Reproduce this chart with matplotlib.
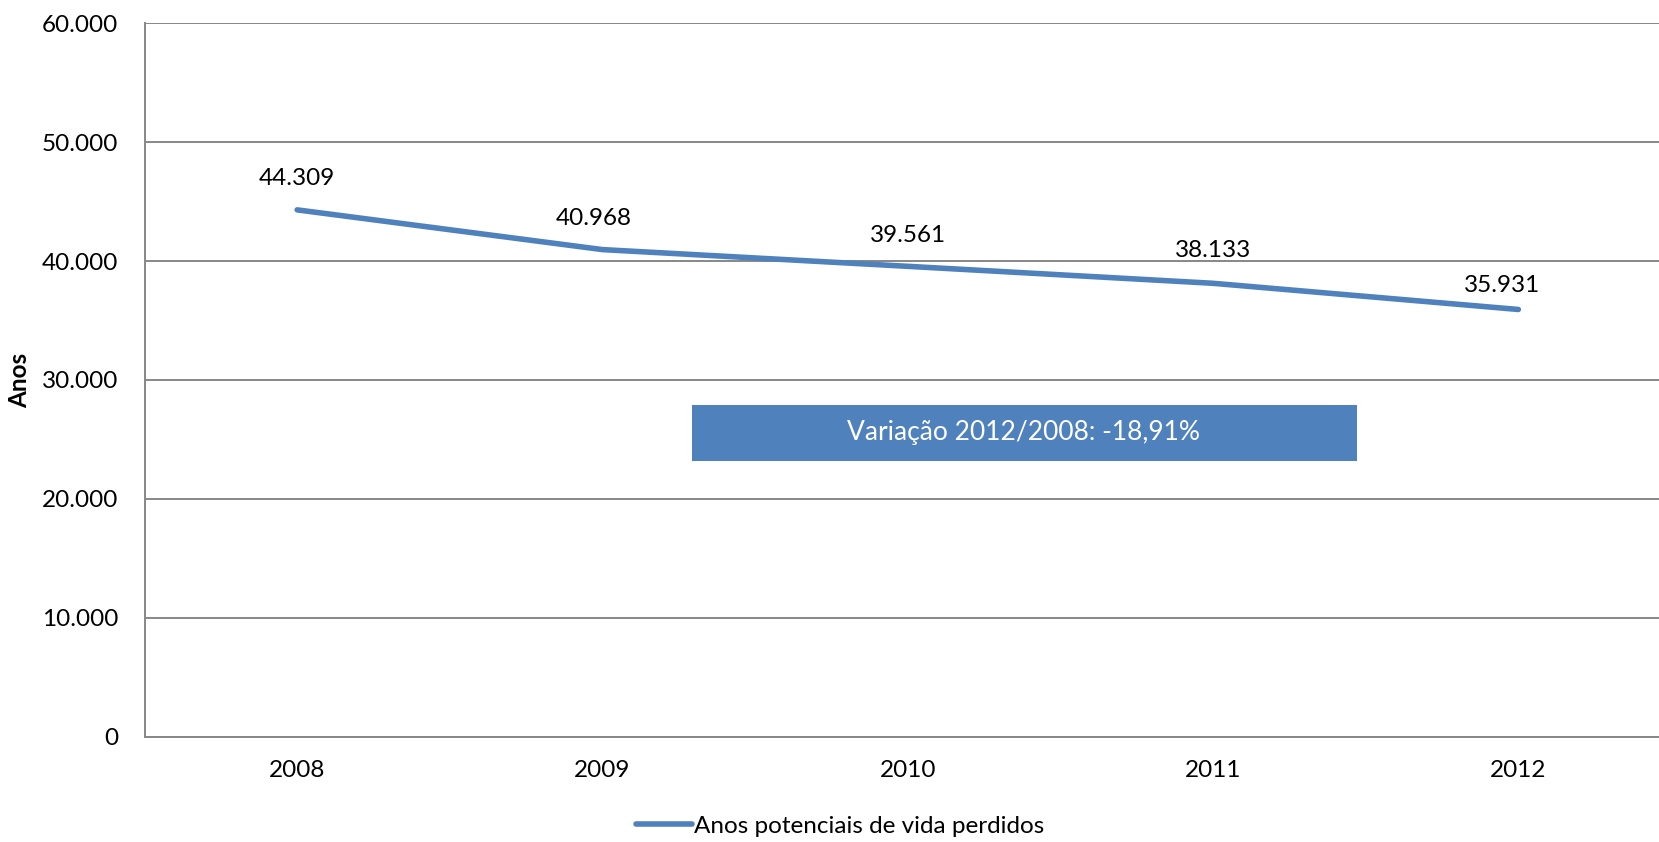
import matplotlib.pyplot as plt
from matplotlib.ticker import FuncFormatter

# Anos potenciais de vida perdidos, 2008-2012
anos = ['2008', '2009', '2010', '2011', '2012']
valores = [44309, 40968, 39561, 38133, 35931]
# deslocamento manual dos rótulos (pontos, até a linha de base do texto)
rot_dx = [0, -6.5, 0, 0, -12]
rot_dy = [18, 17.7, 17.5, 18.7, 12.8]

azul = '#4F81BD'
cinza = '#878787'
plt.rcParams['font.family'] = ['Lato', 'DejaVu Sans']

fig = plt.figure(figsize=(16.59, 8.42), dpi=100)
ax = fig.add_axes([144.5 / 1659, 1 - 736.7 / 842, (1671 - 144.5) / 1659, (736.7 - 23.3) / 842])

x = [i + 0.5 for i in range(len(anos))]
linha, = ax.plot(x, valores, color=azul, linewidth=4.0, solid_capstyle='round',
                 label='Anos potenciais de vida perdidos', zorder=3)

for xi, v, dx, dy in zip(x, valores, rot_dx, rot_dy):
    txt = f'{v:,}'.replace(',', '.')
    ax.annotate(txt, (xi, v), xytext=(dx, dy), textcoords='offset points',
                ha='center', va='baseline', fontsize=17.5, color='black')

ax.set_xlim(0, 5)
ax.set_ylim(0, 60000)
ax.set_xticks(x)
ax.set_xticklabels(anos)
ax.set_yticks(range(0, 60001, 10000))
ax.yaxis.set_major_formatter(FuncFormatter(lambda v, p: f'{int(v):,}'.replace(',', '.')))
ax.tick_params(axis='both', length=0, labelsize=17.5)
ax.tick_params(axis='y', pad=19)
ax.tick_params(axis='x', pad=17)
ax.grid(axis='y', color=cinza, linewidth=1.4)
ax.set_axisbelow(True)
for lado in ['top', 'right']:
    ax.spines[lado].set_visible(False)
for lado in ['left', 'bottom']:
    ax.spines[lado].set_color(cinza)
    ax.spines[lado].set_linewidth(1.4)

ax.set_ylabel('Anos', fontsize=17.5, fontweight='bold')
ax.yaxis.set_label_coords(-113 / (1671 - 144.5), 0.5)

# caixa com a variação do período
ax.add_patch(plt.Rectangle((1.793, 23188), 3.97 - 1.793, 27897 - 23188,
                           facecolor=azul, edgecolor='none', zorder=2))
ax.text(2.88, 25600, 'Variação 2012/2008: -18,91%', ha='center', va='center',
        fontsize=19, color='white', zorder=4)

fig.legend(handles=[linha], loc='center', bbox_to_anchor=(840 / 1659, 1 - 826 / 842),
           frameon=False, fontsize=17.5, handlelength=2.3, handletextpad=0.1)

fig.savefig('out.png', dpi=100)
